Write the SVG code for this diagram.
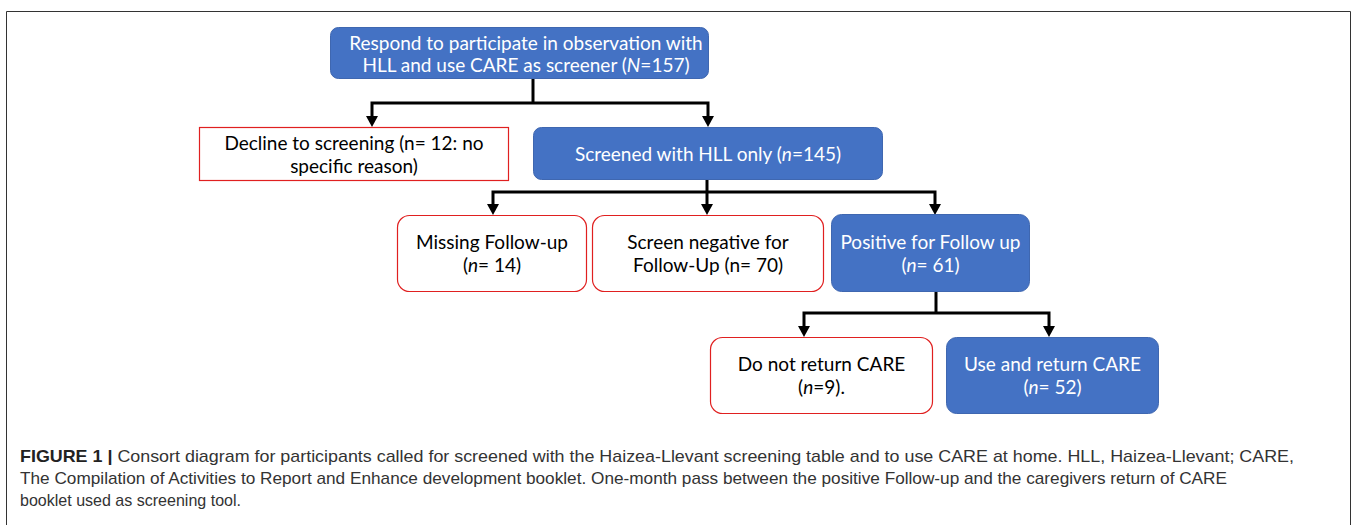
<svg xmlns="http://www.w3.org/2000/svg" width="1357" height="525" viewBox="0 0 1357 525">
<style>
.blue{fill:#4472C4;stroke:#3F67B0;stroke-width:1}
.red{fill:#FFFFFF;stroke:#E02020;stroke-width:1.2}
.t{font-family:Lato,"Open Sans",sans-serif;font-size:19px;text-anchor:middle}
.w{fill:#FFFFFF}
.k{fill:#000000}
.c{fill:none;stroke:#000;stroke-width:3}
.cap{font-family:"Liberation Sans",Arial,sans-serif;font-size:17px;fill:#333}
</style>
<path d="M6.5,525 V11.5 H1350.5 V525" fill="none" stroke="#333" stroke-width="1"/>

<g id="connectors">
<path class="c" d="M533,79 V103"/>
<path class="c" d="M372,117 V103 H708 V117"/>
<path class="c" d="M707,180 V192"/>
<path class="c" d="M493,205 V192 H935 V205"/>
<path class="c" d="M707,192 V205"/>
<path class="c" d="M936,291 V313"/>
<path class="c" d="M804,326 V313 H1049 V326"/>
<polygon points="366,116 378,116 372,127" fill="#000"/>
<polygon points="702,116 714,116 708,127" fill="#000"/>
<polygon points="487,204 499,204 493,215" fill="#000"/>
<polygon points="701,204 713,204 707,215" fill="#000"/>
<polygon points="929,204 941,204 935,215" fill="#000"/>
<polygon points="798,326 810,326 804,337" fill="#000"/>
<polygon points="1043,326 1055,326 1049,337" fill="#000"/>
</g>

<g id="n1">
<rect class="blue" x="330.5" y="27.5" width="378" height="51" rx="8"/>
<text class="t w" x="526" y="50">Respond to participate in observation with</text>
<text class="t w" x="526" y="72">HLL and use CARE as screener (<tspan font-style="italic">N</tspan>=157)</text>
</g>

<g id="n2">
<rect class="red" x="199.5" y="127.5" width="309" height="53"/>
<text class="t k" x="354" y="150">Decline to screening (n= 12: no</text>
<text class="t k" x="354" y="173">specific reason)</text>
</g>

<g id="n3">
<rect class="blue" x="533.5" y="127.5" width="349" height="52" rx="8"/>
<text class="t w" x="708" y="161">Screened with HLL only (<tspan font-style="italic">n</tspan>=145)</text>
</g>

<g id="n4">
<rect class="red" x="397.5" y="215.5" width="189" height="76" rx="12"/>
<text class="t k" x="492" y="249">Missing Follow-up</text>
<text class="t k" x="492" y="272">(<tspan font-style="italic">n</tspan>= 14)</text>
</g>

<g id="n5">
<rect class="red" x="592.5" y="215.5" width="231" height="76" rx="12"/>
<text class="t k" x="708" y="249">Screen negative for</text>
<text class="t k" x="708" y="272">Follow-Up (n= 70)</text>
</g>

<g id="n6">
<rect class="blue" x="831.5" y="214.5" width="198" height="77" rx="10"/>
<text class="t w" x="930.5" y="249">Positive for Follow up</text>
<text class="t w" x="930.5" y="272">(<tspan font-style="italic">n</tspan>= 61)</text>
</g>

<g id="n7">
<rect class="red" x="710.5" y="337.5" width="222" height="76" rx="12"/>
<text class="t k" x="821.5" y="371">Do not return CARE</text>
<text class="t k" x="821.5" y="394">(<tspan font-style="italic">n</tspan>=9).</text>
</g>

<g id="n8">
<rect class="blue" x="946.5" y="337.5" width="212" height="76" rx="10"/>
<text class="t w" x="1052.5" y="371">Use and return CARE</text>
<text class="t w" x="1052.5" y="394">(<tspan font-style="italic">n</tspan>= 52)</text>
</g>

<g id="caption">
<text class="cap" x="20" y="462" textLength="1274" lengthAdjust="spacingAndGlyphs"><tspan font-weight="bold" fill="#222">FIGURE 1 |</tspan> Consort diagram for participants called for screened with the Haizea-Llevant screening table and to use CARE at home. HLL, Haizea-Llevant; CARE,</text>
<text class="cap" x="20" y="484" textLength="1207" lengthAdjust="spacingAndGlyphs">The Compilation of Activities to Report and Enhance development booklet. One-month pass between the positive Follow-up and the caregivers return of CARE</text>
<text class="cap" x="20" y="506" textLength="221" lengthAdjust="spacingAndGlyphs">booklet used as screening tool.</text>
</g>
</svg>
